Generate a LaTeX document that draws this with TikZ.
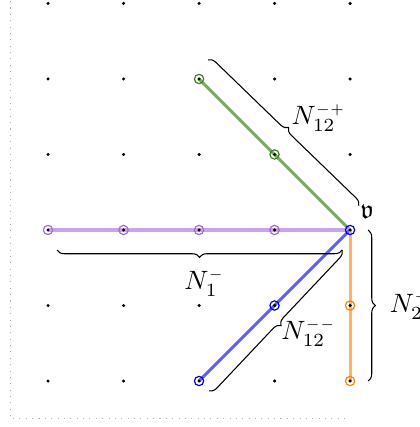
\documentclass[tikz,border=0pt]{standalone}
\usepackage{amssymb}
\usetikzlibrary{decorations.pathreplacing}
\definecolor{grline}{RGB}{128,168,98}
\definecolor{grmark}{RGB}{60,130,40}
\definecolor{puline}{RGB}{200,165,232}
\definecolor{pumark}{RGB}{165,105,215}
\definecolor{blline}{RGB}{95,95,245}
\definecolor{blmark}{RGB}{0,0,230}
\definecolor{orline}{RGB}{255,178,100}
\definecolor{ormark}{RGB}{255,130,0}
\newcommand{\sgn}[1]{{\scriptscriptstyle #1}}
\begin{document}
\begin{tikzpicture}[
  gdot/.style={circle,fill=black,inner sep=0pt,minimum size=1.3pt},
  mk/.style={circle,draw=#1,line width=0.45pt,inner sep=0pt,minimum size=3.5pt},
  seg/.style={line width=1.15pt,draw=#1},
  brc/.style={decorate,decoration={brace,amplitude=2.8pt},line width=0.4pt},
  lbl/.style={inner sep=0pt}
]
\useasboundingbox (-4.636,-2.609) rectangle (0.914,3.046);
\draw[gray!60,dotted] (-4.5,3.2) -- (-4.5,-2.5) -- (0,-2.5);
% grid coordinates p<col><row>, col 0..4 -> x=-4..0, row 0..5 -> y=-2..3
\foreach \i in {0,...,4}
  \foreach \j in {0,...,5}
    \coordinate (p\i\j) at (\i-4,\j-2);
% segments
\draw[seg=grline] (p24) -- (p42);
\draw[seg=puline] (p02) -- (p42);
\draw[seg=blline] (p42) -- (p20);
\draw[seg=orline] (p42) -- (p40);
% markers
\node[mk=grmark] (g1) at (p24) {};
\node[mk=grmark] (g2) at (p33) {};
\node[mk=pumark] (u1) at (p02) {};
\node[mk=pumark] (u2) at (p12) {};
\node[mk=pumark] (u3) at (p22) {};
\node[mk=pumark] (u4) at (p32) {};
\node[mk=blmark] (v) at (p42) {};
\node[mk=blmark] (b1) at (p31) {};
\node[mk=blmark] (b2) at (p20) {};
\node[mk=ormark] (o1) at (p41) {};
\node[mk=ormark] (o2) at (p40) {};
% grid dots
\foreach \i in {0,...,4}
  \foreach \j in {0,...,5}
    \node[gdot] (d\i\j) at (p\i\j) {};
% brace end points
\coordinate (gA) at (-1.881,2.252);
\coordinate (gB) at (0.119,0.318);
\coordinate (jn) at (-0.106,-0.265);
\coordinate (uA) at (-3.881,-0.265);
\coordinate (bB) at (-1.868,-2.132);
\coordinate (oA) at (0.238,0);
\coordinate (oB) at (0.238,-2);
\draw[brc] (gA) -- (gB);
\draw[brc] (jn) -- (uA);
\draw[brc] (jn) -- (bB);
\draw[brc] (oA) -- (oB);
% labels
\node[lbl] (lv) at (0.225,0.238) {$\mathfrak{v}$};
\node[lbl,anchor=west] (l12p) at (-0.78,1.483) {$N_{12}^{\sgn{-+}}$};
\node[lbl,anchor=west] (l1) at (-2.2,-0.702) {$N_{1}^{\sgn{-}}$};
\node[lbl,anchor=west] (l12m) at (-0.915,-1.364) {$N_{12}^{\sgn{--}}$};
\node[lbl,anchor=west] (l2) at (0.52,-1.0) {$N_{2}^{\sgn{-}}$};
\end{tikzpicture}
\end{document}
